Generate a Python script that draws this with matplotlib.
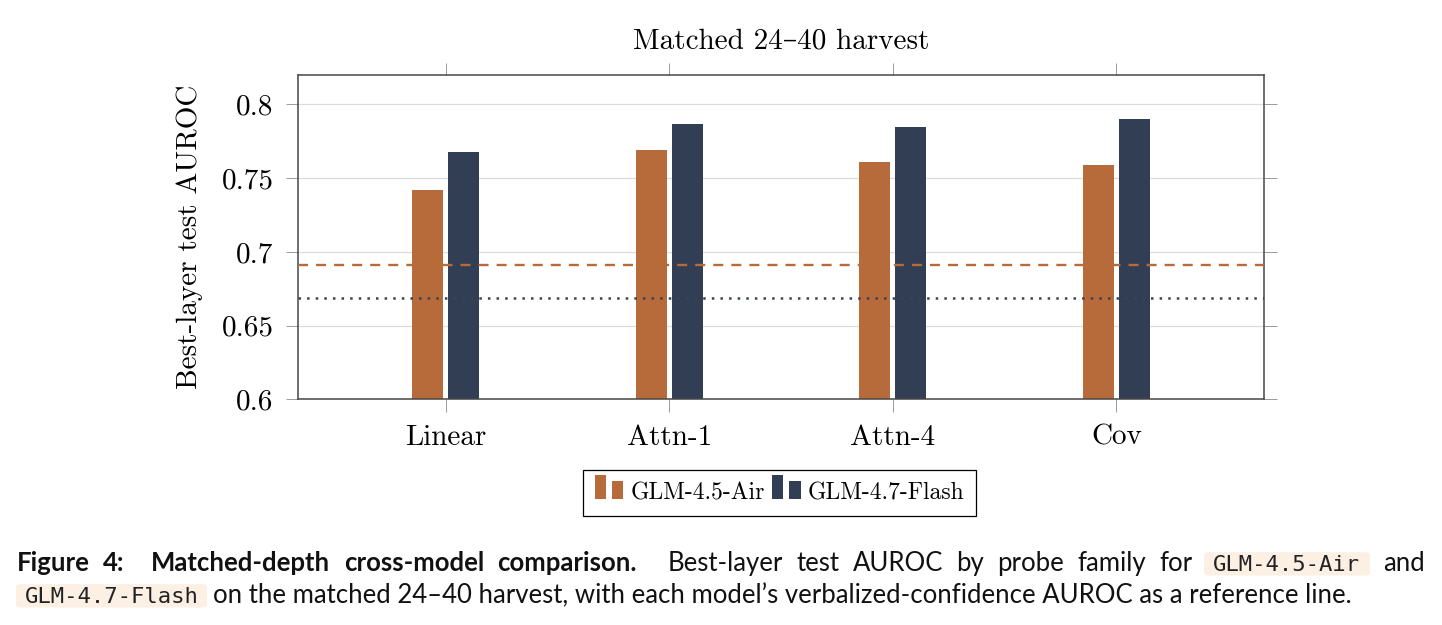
import matplotlib
matplotlib.use("Agg")
import matplotlib.pyplot as plt
import numpy as np
from matplotlib.container import BarContainer
from matplotlib.legend_handler import HandlerBase
from matplotlib.patches import Rectangle, FancyBboxPatch

# data
probes = ["Linear", "Attn-1", "Attn-4", "Cov"]
air_auroc = [0.742, 0.769, 0.761, 0.759]
flash_auroc = [0.768, 0.787, 0.785, 0.790]
air_verbal = 0.691
flash_verbal = 0.669
yticks = [0.6, 0.65, 0.7, 0.75, 0.8]
ytick_labels = ["0.6", "0.65", "0.7", "0.75", "0.8"]

ORANGE = "#b86b3a"
NAVY = "#323e53"
DOTS = "#3c4352"

plt.rcParams["font.family"] = ["cmr10", "DejaVu Serif"]
plt.rcParams["axes.formatter.use_mathtext"] = True
plt.rcParams["lines.scale_dashes"] = False

W, H = 1442, 625
fig = plt.figure(figsize=(W / 100, H / 100), dpi=100)
ax = fig.add_axes([297.7 / W, 1 - 399.3 / H, (1264 - 297.7) / W, (399.3 - 75) / H])

x = np.arange(len(probes))
bw = 0.139
ax.bar(x - 0.0805, air_auroc, bw, color=ORANGE, zorder=2, label="GLM-4.5-Air")
ax.bar(x + 0.0805, flash_auroc, bw, color=NAVY, zorder=2, label="GLM-4.7-Flash")

ax.axhline(air_verbal, color=ORANGE, lw=1.7, dashes=(7.2, 5.8), zorder=3)
ax.axhline(flash_verbal, color=DOTS, lw=1.8, dashes=(1.8, 4.4), zorder=3)

ax.set_xlim(-0.662, 3.66)
ax.set_ylim(0.6, 0.82)
ax.set_xticks(x)
ax.set_xticklabels(probes)
ax.set_yticks(yticks)
ax.set_yticklabels(ytick_labels)
ax.tick_params(axis="both", which="major", direction="out", length=9, width=0.7,
               color="#9a9a9a", labelsize=21, top=True, right=True)
ax.tick_params(axis="y", pad=8.5)
ax.tick_params(axis="x", pad=9)
ax.yaxis.grid(True, color="#dcdcdc", lw=0.9, zorder=0)
ax.set_axisbelow(True)
for s in ax.spines.values():
    s.set_color("#474747")
    s.set_linewidth(1.1)

ax.set_ylabel("Best-layer test AUROC", fontsize=21)
ax.yaxis.set_label_coords(-0.098, 0.5)
ax.set_title("Matched 24\u201340 harvest", fontsize=21, pad=19)


class TwoBarHandler(HandlerBase):
    def create_artists(self, legend, orig_handle, xdescent, ydescent,
                       width, height, fontsize, trans):
        c = orig_handle.patches[0].get_facecolor()
        bw_ = width * 0.39
        y0 = -ydescent
        r1 = Rectangle((-xdescent, y0), bw_, fontsize * 1.03, fc=c, ec="none", transform=trans)
        r2 = Rectangle((-xdescent + width - bw_, y0), bw_, fontsize * 0.76, fc=c, ec="none",
                       transform=trans)
        return [r1, r2]


handles, labels = ax.get_legend_handles_labels()
leg = fig.legend(handles, labels, loc="center", bbox_to_anchor=(779.5 / W, 1 - 493 / H),
                 ncol=2, fontsize=17, frameon=True, fancybox=False, framealpha=1,
                 edgecolor="black", handlelength=1.21, handleheight=0.7, handletextpad=0.29,
                 columnspacing=0.31, borderpad=0.5, handler_map={BarContainer: TwoBarHandler()})
leg.get_frame().set_linewidth(0.9)

# caption below the chart
renderer = fig.canvas.get_renderer()
CAP = "Lato"
MONO = "DejaVu Sans Mono"
line2 = "on the matched 24\u201340 harvest, with each model\u2019s verbalized-confidence AUROC as a reference line."

probe = fig.text(0, 0, line2, family=CAP, fontsize=10)
cap_size = 10 * (1350 - 213) / probe.get_window_extent(renderer).width
probe.remove()


def fx(px):
    return px / W


def fy(py):
    return 1 - py / H


def words_justified(words, x0, x1, y, weights=None, **kw):
    arts = [fig.text(0, 0, w, va="baseline", ha="left", **kw) for w in words]
    widths = [a.get_window_extent(renderer).width for a in arts]
    if weights is None:
        weights = [1] * (len(words) - 1)
    gap = (x1 - x0 - sum(widths)) / max(sum(weights), 1)
    xx = x0
    for i, (a, w) in enumerate(zip(arts, widths)):
        a.set_position((fx(xx), fy(y)))
        if i < len(weights):
            xx += w + gap * weights[i]


def code(s, x_text, y, box_left, box_right):
    t = fig.text(fx(x_text), fy(y), s, family=MONO, fontsize=16, va="baseline", ha="left",
                 color="#222222", zorder=3)
    box = FancyBboxPatch((fx(box_left), fy(y + 4.5)), fx(box_right - box_left), 23.3 / H,
                         boxstyle="round,pad=0,rounding_size=0.004", fc="#fcefe4", ec="none",
                         transform=fig.transFigure, zorder=2)
    fig.patches.append(box)
    return t


y1, y2 = 571, 603
words_justified(["Figure", "4:", "Matched-depth", "cross-model", "comparison."], 16.7, 637, y1,
                weights=[1, 2, 1, 1], family=CAP, fontsize=cap_size, fontweight="bold", color="#111111")
words_justified(["Best-layer", "test", "AUROC", "by", "probe", "family", "for"], 668, 1192, y1,
                family=CAP, fontsize=cap_size, color="#111111")
code("GLM-4.5-Air", 1213, y1, 1204, 1370)
fig.text(fx(1425), fy(y1), "and", family=CAP, fontsize=cap_size, va="baseline", ha="right",
         color="#111111")
code("GLM-4.7-Flash", 25, y2, 16, 207)
fig.text(fx(213), fy(y2), line2, family=CAP, fontsize=cap_size, va="baseline", ha="left",
         color="#111111")

fig.savefig("out.png", dpi=100)
